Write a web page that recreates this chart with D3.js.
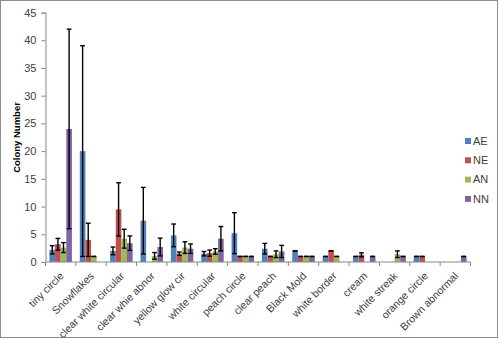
<!DOCTYPE html>
<html>
<head>
<meta charset="utf-8">
<script src="https://cdn.jsdelivr.net/npm/d3@7"></script>
<style>
  html, body { margin: 0; padding: 0; background: #fff; }
  svg { display: block; font-family: "Liberation Sans", Arial, sans-serif; }
</style>
</head>
<body>
<svg id="chart" width="500" height="340"></svg>
<script>
// Colony types on the x axis
const categories = ["tiny circle", "Snowflakes", "clear white circular", "clear whie abnor",
  "yellow glow cir", "white circular", "peach circle", "clear peach", "Black Mold",
  "white border", "cream", "white streak", "orange circle", "Brown abnormal"];

const seriesNames = ["AE", "NE", "AN", "NN"];
const seriesColors = ["#4F81BD", "#C0504D", "#9BBB59", "#8064A2"];

// Mean colony counts per series (0 = no colonies, no bar drawn)
const valuesAE = [2.2, 20, 2, 7.45, 4.8, 1.5, 5.2, 2.4, 2, 1, 1, 0, 1, 0];
const valuesNE = [3.2, 4, 9.5, 0, 1.5, 1.6, 1, 1, 1, 2, 1.3, 0, 1, 0];
const valuesAN = [2.6, 1, 4.2, 1.1, 2.6, 1.9, 1, 1.4, 1, 1, 0, 1.4, 0, 0];
const valuesNN = [24, 0, 3.4, 2.7, 2.4, 4.2, 1, 1.9, 1, 0, 1, 1, 0, 1];

// Error bar half-lengths (standard deviation)
const errorsAE = [0.75, 19, 0.7, 6, 2.05, 0.4, 3.7, 0.95, 0, 0, 0, 0, 0, 0];
const errorsNE = [1.05, 3, 4.8, 0, 0.3, 0.55, 0, 0, 0, 0, 0.35, 0, 0, 0];
const errorsAN = [0.9, 0, 1.7, 0.6, 1.05, 0.5, 0, 0.6, 0, 0, 0, 0.6, 0, 0];
const errorsNN = [18, 0, 1.3, 1.6, 0.85, 2.2, 0, 1.1, 0, 0, 0, 0, 0, 0];

const yTicks = [0, 5, 10, 15, 20, 25, 30, 35, 40, 45];
const yTitle = "Colony Number";

const seriesValues = [valuesAE, valuesNE, valuesAN, valuesNN];
const seriesErrors = [errorsAE, errorsNE, errorsAN, errorsNN];

const svg = d3.select("#chart");
const axisColor = "#868686";
const textColor = "#404040";

// Outer chart frame
svg.append("rect")
  .attr("x", 0.5).attr("y", 0.5).attr("width", 497).attr("height", 337)
  .attr("fill", "#fff").attr("stroke", "#8c8c8c").attr("stroke-width", 1);

const plot = { left: 45.5, right: 470.5, top: 12.5, bottom: 262 };

const x = d3.scaleBand().domain(categories).range([plot.left, plot.right]).paddingInner(0).paddingOuter(0);
const y = d3.scaleLinear().domain([0, 45]).range([plot.bottom, plot.top]);

// Bars within a category: gap width about 140% of a bar
const gapRatio = 1.4 / (seriesNames.length + 1.4);
const xs = d3.scaleBand().domain(seriesNames)
  .range([x.bandwidth() * gapRatio / 2, x.bandwidth() * (1 - gapRatio / 2)]);

// Flatten into one record per bar
const records = [];
seriesNames.forEach((s, si) => {
  categories.forEach((c, ci) => {
    const v = seriesValues[si][ci];
    if (v > 0) records.push({ series: s, color: seriesColors[si], cat: c, value: v, err: seriesErrors[si][ci] });
  });
});

const barsG = svg.append("g");
barsG.selectAll("rect").data(records).join("rect")
  .attr("x", d => x(d.cat) + xs(d.series))
  .attr("y", d => y(d.value))
  .attr("width", xs.bandwidth())
  .attr("height", d => y(0) - y(d.value))
  .attr("fill", d => d.color);

// Error bars with caps
const capHalf = xs.bandwidth() * 0.42;
const errG = svg.append("g").attr("stroke", "#000").attr("stroke-width", 1.4);
records.forEach(d => {
  const cx = x(d.cat) + xs(d.series) + xs.bandwidth() / 2;
  const hi = y(d.value + d.err), lo = y(Math.max(0, d.value - d.err));
  if (d.err > 0) {
    errG.append("line").attr("x1", cx).attr("x2", cx).attr("y1", hi).attr("y2", lo);
  }
  errG.append("line").attr("x1", cx - capHalf).attr("x2", cx + capHalf).attr("y1", hi).attr("y2", hi);
  errG.append("line").attr("x1", cx - capHalf).attr("x2", cx + capHalf).attr("y1", lo).attr("y2", lo);
});

// Y axis
const yAxis = svg.append("g").attr("transform", `translate(${plot.left},0)`)
  .call(d3.axisLeft(y).tickValues(yTicks).tickSize(4).tickPadding(5));
yAxis.select(".domain").attr("stroke", axisColor);
yAxis.selectAll(".tick line").attr("stroke", axisColor);
yAxis.selectAll(".tick text").attr("fill", textColor).style("font-size", "11px");

// X axis: ticks on category boundaries
const xAxis = svg.append("g").attr("transform", `translate(0,${plot.bottom})`);
xAxis.append("line").attr("x1", plot.left).attr("x2", plot.right).attr("y1", 0).attr("y2", 0)
  .attr("stroke", axisColor);
const boundaries = categories.map(c => x(c)).concat([plot.right]);
xAxis.selectAll("line.tk").data(boundaries).join("line").attr("class", "tk")
  .attr("x1", d => d).attr("x2", d => d).attr("y1", 0).attr("y2", 4).attr("stroke", axisColor);
xAxis.selectAll("text").data(categories).join("text")
  .attr("transform", d => `translate(${x(d) + x.bandwidth() / 2 + 1},12) rotate(-45)`)
  .attr("text-anchor", "end")
  .attr("dy", "0.35em")
  .attr("fill", textColor)
  .style("font-size", "10.6px")
  .text(d => d);

// Y axis title
svg.append("text")
  .attr("transform", "translate(17,137.5) rotate(-90)")
  .attr("text-anchor", "middle").attr("dy", "0.35em")
  .attr("fill", "#000").style("font-size", "9.5px").style("font-weight", "bold")
  .text(yTitle);

// Legend
const legend = svg.append("g").attr("transform", "translate(465,141)");
const li = legend.selectAll("g").data(seriesNames).join("g")
  .attr("transform", (d, i) => `translate(0,${i * 19.3})`);
li.append("rect").attr("x", 0).attr("y", -3).attr("width", 6).attr("height", 6)
  .attr("fill", (d, i) => seriesColors[i]);
li.append("text").attr("x", 8).attr("dy", "0.35em").attr("fill", textColor)
  .style("font-size", "11px").text(d => d);
</script>
</body>
</html>
